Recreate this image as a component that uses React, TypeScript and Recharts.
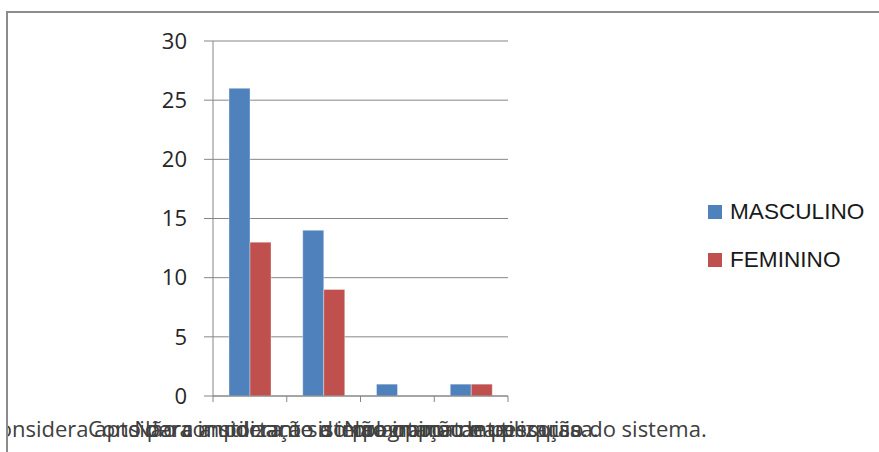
import React from 'react'
import { BarChart, Bar, XAxis, YAxis, CartesianGrid } from 'recharts'

const categories = [
  'Não se considera apto para a utilização do programa de pesquisa.',
  'Não considera o sistema importante.',
  'Considera importante a implantação e utilização do sistema.',
  'Não opinou na pesquisa.',
]
const masculino = [26, 14, 1, 1]
const feminino = [13, 9, 0, 1]
const yTicks = [0, 5, 10, 15, 20, 25, 30]

const series = [
  { key: 'MASCULINO', values: masculino, color: '#4F81BD' },
  { key: 'FEMININO', values: feminino, color: '#C0504D' },
]

const data = categories.map((name, i) => ({
  name,
  MASCULINO: masculino[i],
  FEMININO: feminino[i],
}))

const GRID = '#868686'
const FONT = '"Open Sans", sans-serif'

// category label plus the small divider ticks between categories
function CategoryTick(props: any) {
  const { x, y, payload, index, visibleTicksCount } = props
  const half = payload?.offset ?? 37
  const isLast = index === visibleTicksCount - 1
  return (
    <g>
      <line x1={x - half} x2={x - half} y1={y} y2={y + 6} stroke={GRID} />
      {isLast && <line x1={x + half} x2={x + half} y1={y} y2={y + 6} stroke={GRID} />}
      <text
        x={x}
        y={y + 41}
        textAnchor="middle"
        fontFamily={FONT}
        fontSize={22}
        fill="#404040"
      >
        {payload.value}
      </text>
    </g>
  )
}

export default function App() {
  return (
    <div
      style={{
        position: 'absolute',
        left: 0,
        top: 0,
        width: 879,
        height: 452,
        background: '#fff',
        overflow: 'hidden',
      }}
    >
      <div
        style={{
          position: 'absolute',
          left: 6,
          top: 11,
          width: 871,
          height: 439,
          borderLeft: '2px solid #8c8c8c',
          borderTop: '2px solid #8c8c8c',
          overflow: 'hidden',
        }}
      >
        <BarChart
          width={871}
          height={439}
          data={data}
          margin={{ top: 28, right: 371, left: 0, bottom: 16 }}
          barCategoryGap={16}
          barGap={0}
        >
          <CartesianGrid vertical={false} stroke={GRID} />
          <XAxis
            dataKey="name"
            height={40}
            axisLine={{ stroke: GRID }}
            tickLine={false}
            tickSize={0}
            tickMargin={0}
            interval={0}
            tick={<CategoryTick />}
          />
          <YAxis
            width={205}
            domain={[0, 30]}
            ticks={yTicks}
            axisLine={{ stroke: GRID }}
            tickLine={{ stroke: GRID }}
            tickSize={9}
            tickMargin={17}
            tick={{ fontFamily: FONT, fontSize: 22, fill: '#262626' }}
          />
          {series.map((s) => (
            <Bar
              key={s.key}
              dataKey={s.key}
              fill={s.color}
              stroke="#ffffff"
              strokeOpacity={0.35}
              isAnimationActive={false}
            />
          ))}
        </BarChart>
      </div>
      <div style={{ position: 'absolute', left: 708, top: 196 }}>
        {series.map((s) => (
          <div
            key={s.key}
            style={{
              display: 'flex',
              alignItems: 'center',
              height: 32,
              marginBottom: 16,
              fontFamily: '"Liberation Sans", Arial, sans-serif',
              fontSize: 22.6,
              color: '#1a1a1a',
            }}
          >
            <span
              style={{
                width: 14,
                height: 14,
                background: s.color,
                marginRight: 8,
                display: 'inline-block',
              }}
            />
            {s.key}
          </div>
        ))}
      </div>
    </div>
  )
}
